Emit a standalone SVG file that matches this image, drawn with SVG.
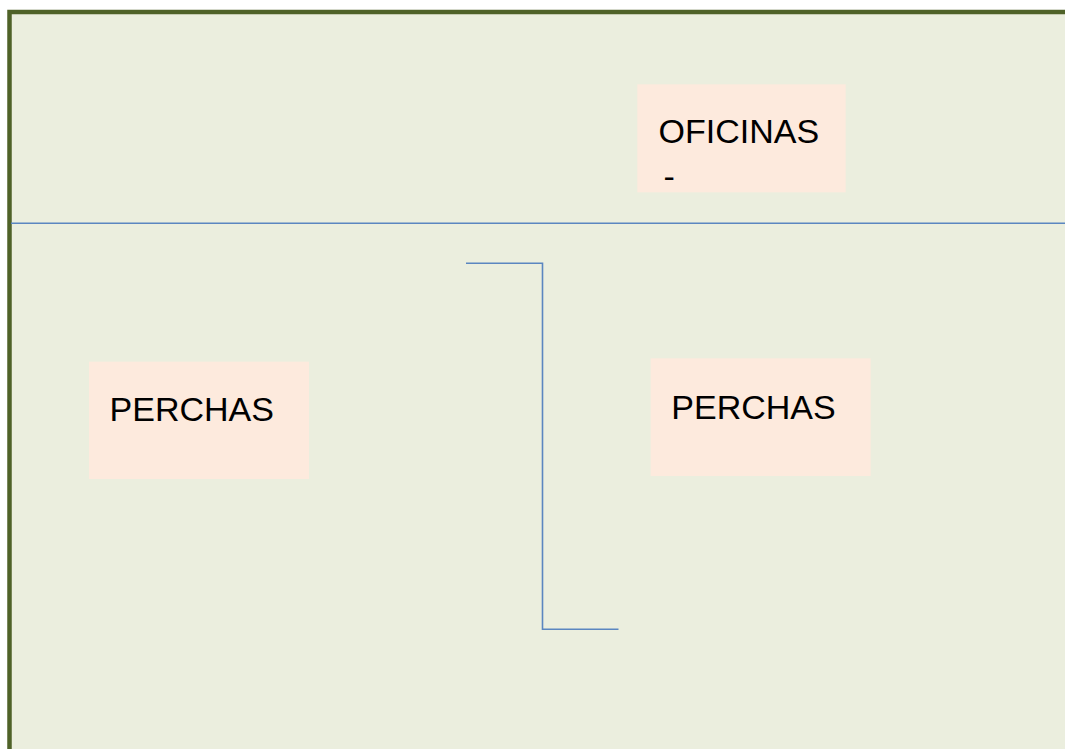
<svg xmlns="http://www.w3.org/2000/svg" width="1065" height="749" viewBox="0 0 1065 749">
<style>
.box{fill:#FDEADD;}
.lbl{font-family:"Liberation Sans",Arial,sans-serif;font-size:34px;fill:#000;}
.ln{fill:none;stroke:#5B86C0;stroke-width:1.6;}
</style>
<rect x="0" y="0" width="1065" height="749" fill="#FFFFFF"/>
<rect id="plan" x="9.5" y="12" width="1070" height="760" fill="#EBEEDE" stroke="#4F6228" stroke-width="4.5"/>
<g id="connectors">
<line class="ln" x1="11" y1="223.3" x2="1065" y2="223.3"/>
<polyline class="ln" points="466,263.3 542.5,263.3 542.5,629.3 618.5,629.3"/>
</g>
<g id="oficinas">
<rect class="box" x="637.3" y="84.3" width="208.4" height="108"/>
<text class="lbl" x="658.5" y="142.7">OFICINAS</text>
<text class="lbl" x="663.5" y="188">-</text>
</g>
<g id="perchas-left">
<rect class="box" x="89" y="361.7" width="220" height="117.3"/>
<text class="lbl" x="109.6" y="421">PERCHAS</text>
</g>
<g id="perchas-right">
<rect class="box" x="650.7" y="358.3" width="220" height="117.7"/>
<text class="lbl" x="671.3" y="419.3">PERCHAS</text>
</g>
</svg>
